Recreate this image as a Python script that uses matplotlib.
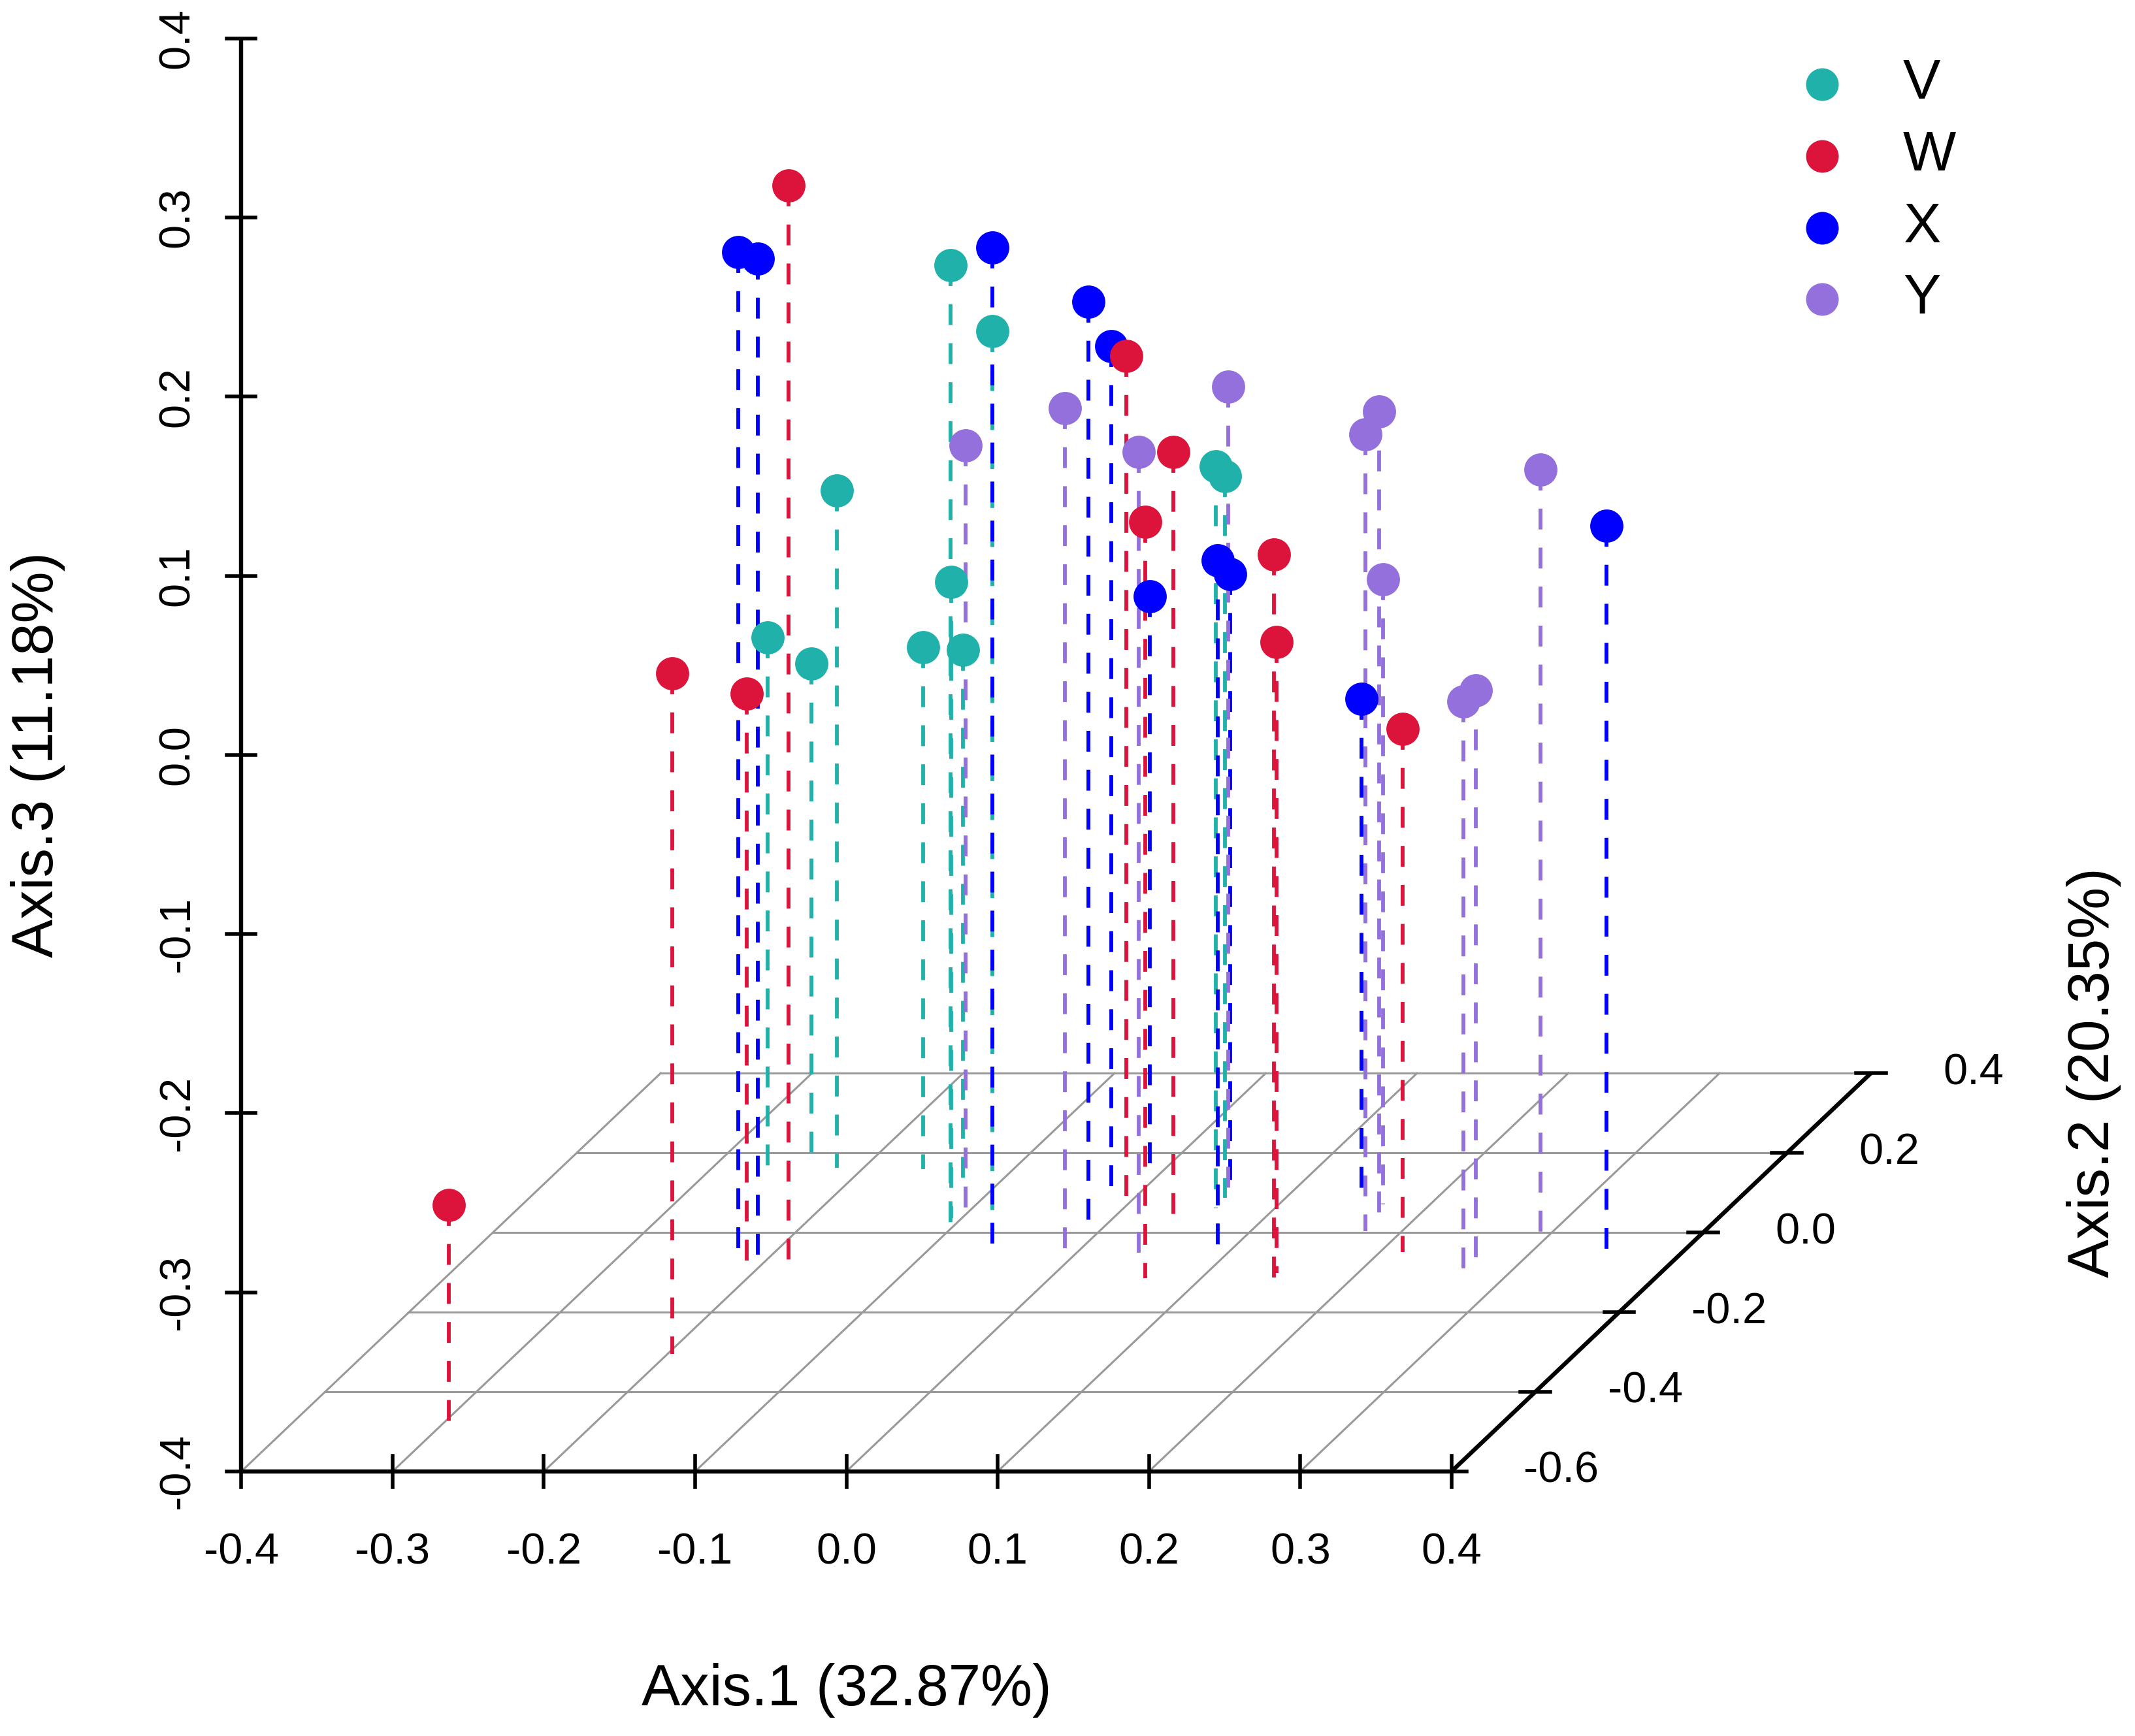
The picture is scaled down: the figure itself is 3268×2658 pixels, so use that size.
import matplotlib
matplotlib.use('Agg')
import matplotlib.pyplot as plt
import numpy as np

plt.rcParams['font.family'] = ['Liberation Sans', 'DejaVu Sans']
plt.rcParams['lines.scale_dashes'] = False

# groups and colours
groups = ['V', 'W', 'X', 'Y']
colors = ['#20B2AA', '#DC143C', '#0000FF', '#9370DB']

# ordination scores (Axis.1, Axis.2, Axis.3)
v_ax1 = [-0.094, -0.075, -0.218, -0.107, -0.260, -0.239, -0.160, -0.118, 0.061, 0.060]
v_ax2 = [-0.013, 0.019, 0.163, 0.036, 0.150, 0.178, 0.160, 0.104, 0.061, 0.087]
v_ax3 = [0.143, 0.099, -0.022, -0.045, -0.101, -0.122, -0.109, -0.098, 0.014, 0.003]

w_ax1 = [-0.179, -0.197, -0.206, 0.001, 0.043, 0.063, 0.148, 0.146, 0.215, -0.295]
w_ax2 = [-0.092, -0.305, -0.095, 0.064, 0.025, -0.114, -0.114, -0.101, -0.049, -0.484]
w_ax3 = [0.205, -0.020, -0.078, 0.075, 0.030, 0.022, 0.004, -0.048, -0.108, -0.277]

x_ax1 = [-0.216, -0.207, -0.061, -0.012, -0.015, 0.095, 0.057, -0.007, 0.148, 0.354]
x_ax2 = [-0.079, -0.064, -0.032, 0.020, 0.085, -0.057, 0.110, 0.149, 0.094, -0.065]
x_ax3 = [0.165, 0.158, 0.157, 0.115, 0.076, -0.012, -0.057, -0.078, -0.123, 0.009]

y_ax1 = [-0.103, -0.001, 0.062, 0.041, 0.174, 0.176, 0.169, 0.300, 0.267, 0.274]
y_ax2 = [0.056, -0.076, 0.087, -0.051, 0.042, 0.003, 0.070, -0.027, -0.092, -0.087]
y_ax3 = [0.027, 0.077, 0.053, 0.047, 0.049, 0.045, -0.051, 0.032, -0.083, -0.078]

ticks1 = [-0.4, -0.3, -0.2, -0.1, 0.0, 0.1, 0.2, 0.3, 0.4]
ticks2 = [-0.6, -0.4, -0.2, 0.0, 0.2, 0.4]
ticks3 = [-0.4, -0.3, -0.2, -0.1, 0.0, 0.1, 0.2, 0.3, 0.4]

label1 = 'Axis.1 (32.87%)'
label2 = 'Axis.2 (20.35%)'
label3 = 'Axis.3 (11.18%)'

# oblique projection like scatterplot3d
x_min, x_max = ticks1[0], ticks1[-1]
y_min, y_max = ticks2[0], ticks2[-1]
z_min, z_max = ticks3[0], ticks3[-1]
shear_u = 0.2772
shear_v = 0.2223


def proj(x, y, z):
    x = np.asarray(x, float)
    y = np.asarray(y, float)
    z = np.asarray(z, float)
    return x + (y - y_min) * shear_u, z + (y - y_min) * shear_v


def fmt(v):
    s = f'{v:.1f}'
    return '0.0' if s == '-0.0' else s


fig = plt.figure(figsize=(16.34, 13.29), dpi=200)
ax = fig.add_axes([0, 0, 1, 1])
ax.axis('off')
ax.set_xlim(-0.5595, 0.8518)
ax.set_ylim(-0.5477, 0.4214)

grid_kw = dict(color='#999999', lw=1.1, zorder=1)
# floor grid: lines of constant axis 1
for t in ticks1:
    u, v = proj([t, t], [y_min, y_max], [z_min, z_min])
    ax.plot(u, v, **grid_kw)
# floor grid: lines of constant axis 2
for t in ticks2[1:]:
    u, v = proj([x_min, x_max], [t, t], [z_min, z_min])
    ax.plot(u, v, **grid_kw)

axis_kw = dict(color='black', lw=2.3, zorder=4, solid_capstyle='butt')
tick_kw = dict(color='black', lw=2.0, zorder=4)
# axis 1 (front)
u, v = proj([x_min, x_max], [y_min, y_min], [z_min, z_min])
ax.plot(u, v, **axis_kw)
for t in ticks1:
    u, v = proj(t, y_min, z_min)
    ax.plot([u, u], [v - 0.0087, v + 0.0087], **tick_kw)
    ax.text(u, v - 0.0456, fmt(t), ha='center', va='center', fontsize=24)
# axis 3 (vertical)
u, v = proj([x_min, x_min], [y_min, y_min], [z_min, z_max])
ax.plot(u, v, **axis_kw)
for t in ticks3:
    u, v = proj(x_min, y_min, t)
    ax.plot([u - 0.0095, u + 0.0095], [v, v], **tick_kw)
    ax.text(u - 0.0419, v, fmt(t), ha='center', va='center', fontsize=24, rotation=90)
# axis 2 (depth, right side)
u, v = proj([x_max, x_max], [y_min, y_max], [z_min, z_min])
ax.plot(u, v, **axis_kw)
for t in ticks2:
    u, v = proj(x_max, t, z_min)
    ax.plot([u - 0.0099, u + 0.0099], [v, v], **tick_kw)
    ax.text(u + 0.0477, v, fmt(t), ha='left', va='center', fontsize=24)

ax.text(0.0, -0.5223, label1, ha='center', va='center', fontsize=32)
ax.text(-0.5343, 0.0, label3, ha='center', va='center', fontsize=32, rotation=90)
ax.text(0.8248, -0.1774, label2, ha='center', va='center', fontsize=32, rotation=90)

# points with dashed drop lines, drawn back to front
all_x = np.concatenate([v_ax1, w_ax1, x_ax1, y_ax1])
all_y = np.concatenate([v_ax2, w_ax2, x_ax2, y_ax2])
all_z = np.concatenate([v_ax3, w_ax3, x_ax3, y_ax3])
all_c = np.repeat(colors, [len(v_ax1), len(w_ax1), len(x_ax1), len(y_ax1)])
order = np.argsort(-all_y, kind='stable')

for i in order:
    u, v = proj([all_x[i], all_x[i]], [all_y[i], all_y[i]], [all_z[i], z_min])
    ax.plot(u, v, color=all_c[i], lw=2.1, dashes=(11.5, 10), zorder=2)
for i in order:
    u, v = proj(all_x[i], all_y[i], all_z[i])
    ax.plot(u, v, 'o', color=all_c[i], ms=17.5, mec=all_c[i], mew=0.8, zorder=3)

# legend, top right
for k, (g, c) in enumerate(zip(groups, colors)):
    ax.plot(0.6448, 0.3743 - 0.040 * k, 'o', color=c, ms=17, zorder=3)
    ax.text(0.6985, 0.3743 - 0.040 * k, g, ha='left', va='center', fontsize=31)

fig.savefig('out.png', dpi=200)
